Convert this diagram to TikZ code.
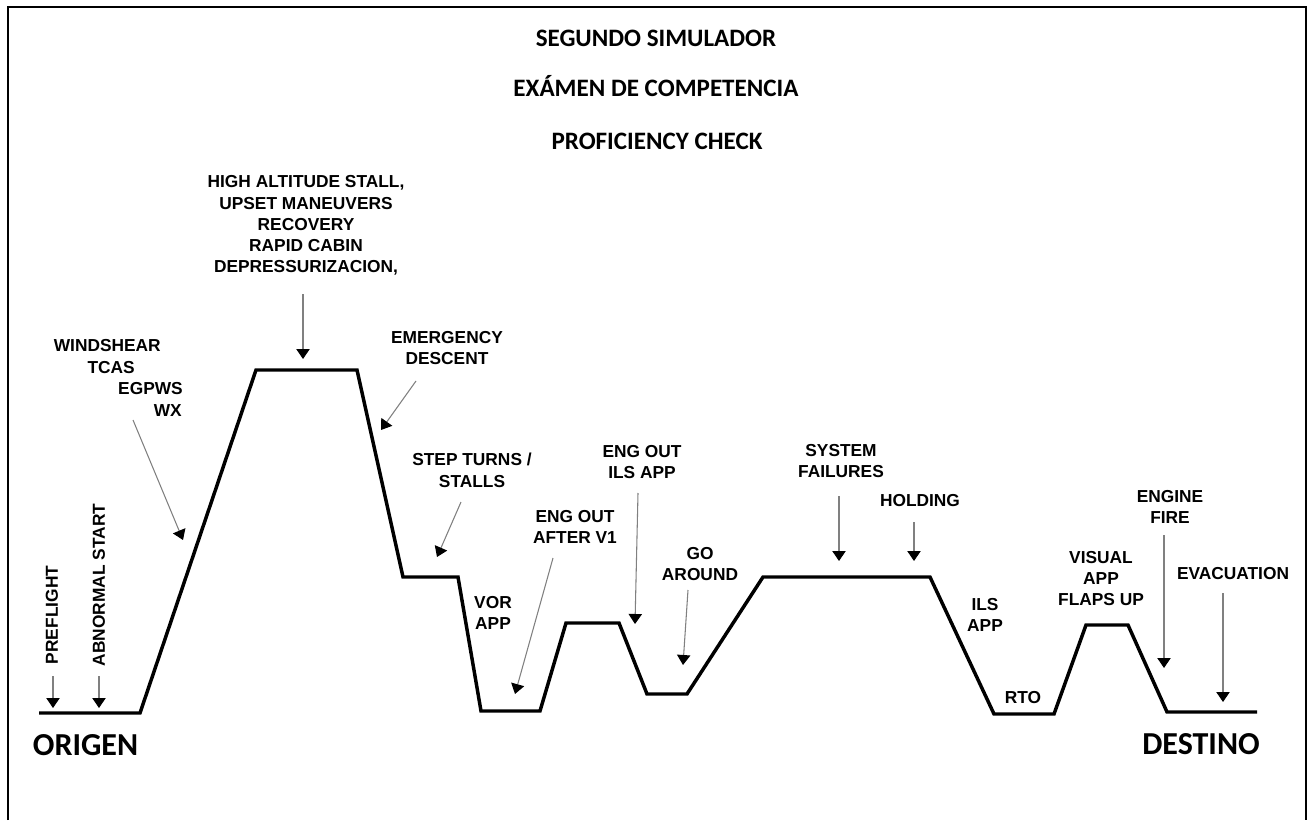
\documentclass[tikz,border=0pt]{standalone}
\usepackage{fontspec}
\usepackage{tikz}
\usetikzlibrary{arrows.meta}

\newfontfamily\labfont{Liberation Sans}
\newfontfamily\ttlfont{Carlito}

\begin{document}
\begin{tikzpicture}[x=.75pt,y=-.75pt,
		lab/.style={font=\labfont\bfseries\fontsize{13}{15.9}\selectfont, align=center, inner sep=0pt, anchor=north},
		ttl/.style={font=\ttlfont\bfseries\fontsize{18.8}{22}\selectfont, inner sep=0pt, anchor=base},
		place/.style={font=\ttlfont\bfseries\fontsize{24}{28}\selectfont, inner sep=0pt, anchor=base},
		pointer/.style={draw=gray, line width=.8pt, -{Triangle[length=7.5pt,width=10pt,color=black]}},
		profile/.style={line width=2.6pt, line join=miter}]
				\useasboundingbox (0,0) rectangle (1312,820);
				\draw [line width=1.5pt] (7.5,820) -- (7.5,7) -- (1305.5,7) -- (1305.5,820);

				% titles
				\node [ttl] (t1) at (656,47) {SEGUNDO SIMULADOR};
				\node [ttl] (t2) at (656,97) {EXÁMEN DE COMPETENCIA};
				\node [ttl] (t3) at (657,150) {PROFICIENCY CHECK};

				% flight profile
				\foreach [count=\i from 0] \px/\py in {39/713, 140/713, 256/370, 357/370, 403/577, 458/577, 481/711, 540/711, 566/623, 619/623, 647/694, 687/694, 763/577, 930/577, 994/714, 1054/714, 1086/625, 1128/625, 1167/712, 1257/712}
				{
					\coordinate (p\i) at (\px,\py);
				}
				\draw [profile] (p0) \foreach \i in {1,...,19} { -- (p\i) };

				\node [place] (origen) at (85.5,755) {ORIGEN};
				\node [place] (destino) at (1201,754) {DESTINO};

				% labels
				\foreach \n/\x/\y/\t in {
					high/306/175.5/{HIGH ALTITUDE STALL,\\UPSET MANEUVERS\\RECOVERY\\ RAPID CABIN\\DEPRESSURIZACION,},
					emer/447/331/{EMERGENCY\\DESCENT},
					step/472/453/{STEP TURNS /\\STALLS},
					vor/493/596/{VOR\\APP},
					engv/575/510/{ENG OUT\\AFTER V1},
					engils/642/445/{ENG OUT\\ILS APP},
					goar/700/547/{GO\\AROUND},
					sys/841/444/{SYSTEM\\FAILURES},
					hold/920/494/{HOLDING},
					ils/985/598/{ILS\\APP},
					rto/1023/691/{RTO},
					visual/1101/551/{VISUAL\\APP\\FLAPS UP},
					fire/1170/490/{ENGINE\\FIRE},
					evac/1233/567/{EVACUATION}}
				{
					\node [lab] (\n) at (\x,\y) {\t};
				}

				\node [lab, anchor=base east] (wsh) at (161,351) {WINDSHEAR};
				\node [lab, anchor=base east] (tcas) at (135,373) {TCAS};
				\node [lab, anchor=base east] (egpws) at (183,394) {EGPWS};
				\node [lab, anchor=base east] (wx) at (182,416) {WX};

				\node [lab, anchor=center, rotate=90] (pre) at (52,615) {PREFLIGHT};
				\node [lab, anchor=center, rotate=90] (abn) at (99,585) {ABNORMAL START};

				% pointers
				\foreach \n/\xa/\ya/\xb/\yb in {high/303/294/303/359, wx/133/420/183/540, emer/416/381/381/430, step/461/502/437/557, engv/553/558/515/694, engils/638/493/635/624, goar/688/590/683/665, sys/839/496/839/561, hold/914/522/914/561, fire/1164/535/1164/668, evac/1223/593/1223/702, pre/53/676/53/708, abn/99/676/99/708}
				{
					\coordinate (s-\n) at (\xa,\ya);
					\coordinate (e-\n) at (\xb,\yb);
					\draw [pointer] (s-\n) -- (e-\n);
				}
\end{tikzpicture}
\end{document}
